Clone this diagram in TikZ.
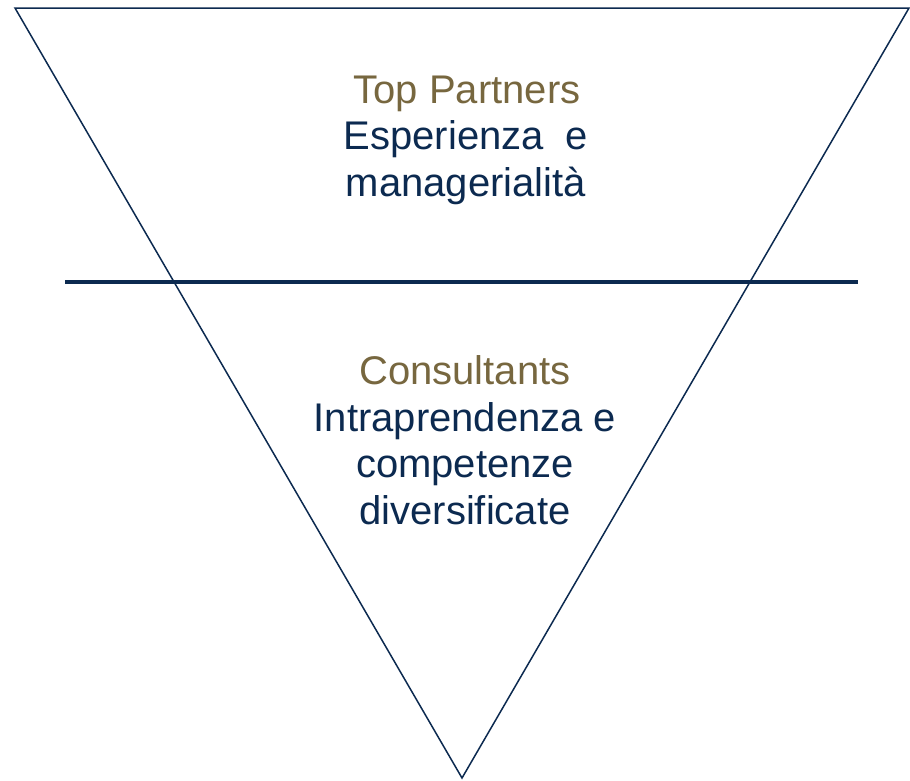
\documentclass[tikz,border=0pt]{standalone}
\usepackage{fontspec}
\setmainfont{Liberation Sans}
\definecolor{navy}{HTML}{0C2A50}
\definecolor{gold}{HTML}{77673F}
\begin{document}
\begin{tikzpicture}[x=1pt,y=-1pt,
  headtxt/.style={anchor=base,text=gold,font=\fontsize{40}{47}\selectfont,inner sep=0pt},
  bodytxt/.style={anchor=base,text=navy,font=\fontsize{40}{47}\selectfont,inner sep=0pt}]
\useasboundingbox (0,0) rectangle (910,780);
\coordinate (tl) at (15,8);
\coordinate (tr) at (909,8);
\coordinate (bt) at (462,778);
\coordinate (hl) at (65,282);
\coordinate (hr) at (858,282);
\draw[navy,line width=1.5pt,line join=miter] (tl) -- (tr) -- (bt) -- cycle;
\draw[navy,line width=4pt] (hl) -- (hr);
\node[headtxt] (tp) at (467,103) {Top Partners};
\node[bodytxt] (e1) at (466,149) {Esperienza\ \ e};
\node[bodytxt] (e2) at (466,196) {managerialità};
\node[headtxt] (co) at (465,384) {Consultants};
\node[bodytxt] (c1) at (465,431) {Intraprendenza e};
\node[bodytxt] (c2) at (465,477) {competenze};
\node[bodytxt] (c3) at (465,524) {diversificate};
\end{tikzpicture}
\end{document}
